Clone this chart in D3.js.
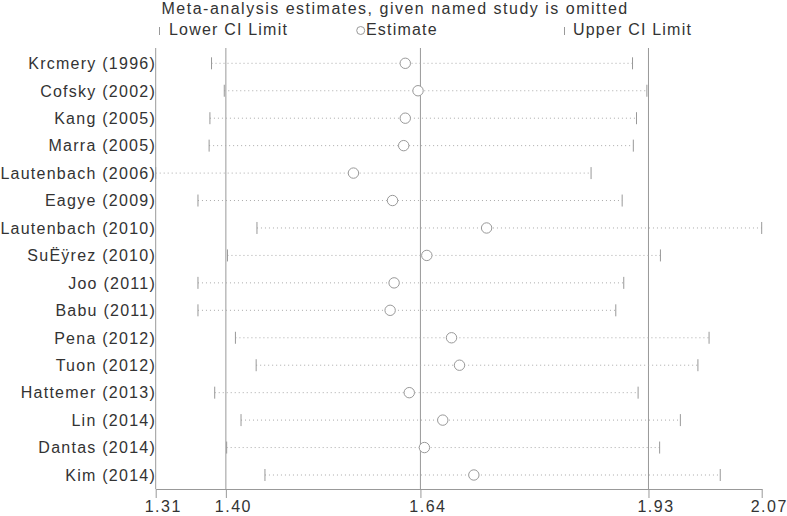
<!DOCTYPE html>
<html>
<head>
<meta charset="utf-8">
<script src="https://cdn.jsdelivr.net/npm/d3@7/dist/d3.min.js"></script>
<style>
  html, body { margin: 0; padding: 0; background: #fff; }
  svg { display: block; }
  text { font-family: "Liberation Sans", Arial, Helvetica, sans-serif; fill: #333; }
</style>
</head>
<body>
<svg id="chart" width="787" height="516"></svg>
<script>
const studies = ["Krcmery (1996)", "Cofsky (2002)", "Kang (2005)", "Marra (2005)",
  "Lautenbach (2006)", "Eagye (2009)", "Lautenbach (2010)", "SuËÿrez (2010)",
  "Joo (2011)", "Babu (2011)", "Pena (2012)", "Tuon (2012)", "Hattemer (2013)",
  "Lin (2014)", "Dantas (2014)", "Kim (2014)"];
const estimates = [1.623, 1.639, 1.623, 1.621, 1.558, 1.607, 1.725, 1.650,
  1.609, 1.604, 1.681, 1.691, 1.628, 1.670, 1.647, 1.709];
const lowerCI = [1.380, 1.396, 1.378, 1.377, 1.310, 1.363, 1.437, 1.400,
  1.363, 1.363, 1.410, 1.436, 1.384, 1.417, 1.399, 1.447];
const upperCI = [1.908, 1.926, 1.913, 1.909, 1.856, 1.895, 2.070, 1.943,
  1.897, 1.887, 2.004, 1.990, 1.915, 1.968, 1.942, 2.018];
const axisMin = 1.31, axisMax = 2.07;
const refLines = [1.398, 1.642, 1.928];   // overall lower CI, estimate, upper CI
const tickValues = [axisMin, ...refLines, axisMax];
const titleText = "Meta-analysis estimates, given named study is omitted";
const legendItems = ["Lower CI Limit", "Estimate", "Upper CI Limit"];

const svg = d3.select("#chart");
const x = d3.scaleLinear().domain([axisMin, axisMax]).range([155.7, 761.7]);
const y = d3.scalePoint().domain(studies).range([63.3, 475]);
const plotTop = 48, axisY = 489;

const rows = studies.map((s, i) => ({ s, est: estimates[i], lo: lowerCI[i], hi: upperCI[i] }));

// Title
svg.append("text").attr("x", 161.5).attr("y", 13.5)
  .style("font-size", "16px").style("letter-spacing", "1.5px").text(titleText);

// Legend
const lg = svg.append("g");
lg.append("line").attr("x1", 159.5).attr("x2", 159.5).attr("y1", 27).attr("y2", 35)
  .attr("stroke", "#999");
lg.append("text").attr("x", 169).attr("y", 35).style("font-size", "16px")
  .style("letter-spacing", "1.2px").text(legendItems[0]);
lg.append("circle").attr("cx", 360.7).attr("cy", 30.5).attr("r", 4)
  .attr("fill", "none").attr("stroke", "#999");
lg.append("text").attr("x", 366).attr("y", 35).style("font-size", "16px")
  .style("letter-spacing", "1.2px").text(legendItems[1]);
lg.append("line").attr("x1", 564.5).attr("x2", 564.5).attr("y1", 27).attr("y2", 35)
  .attr("stroke", "#999");
lg.append("text").attr("x", 573).attr("y", 35).style("font-size", "16px")
  .style("letter-spacing", "1.2px").text(legendItems[2]);

// Left axis line and reference lines
svg.append("line").attr("x1", x(axisMin)).attr("x2", x(axisMin))
  .attr("y1", plotTop).attr("y2", axisY).attr("stroke", "#999");
svg.selectAll("line.ref").data(refLines).join("line").attr("class", "ref")
  .attr("x1", d => x(d)).attr("x2", d => x(d))
  .attr("y1", plotTop).attr("y2", axisY).attr("stroke", "#999");

// Dotted CI lines
svg.selectAll("line.ci").data(rows).join("line").attr("class", "ci")
  .attr("x1", d => x(d.lo)).attr("x2", d => x(d.hi))
  .attr("y1", d => y(d.s)).attr("y2", d => y(d.s))
  .attr("stroke", "#aaa").attr("stroke-dasharray", "1,3");

// CI end marks
svg.selectAll("line.lo").data(rows).join("line").attr("class", "lo")
  .attr("x1", d => x(d.lo)).attr("x2", d => x(d.lo))
  .attr("y1", d => y(d.s) - 6).attr("y2", d => y(d.s) + 6)
  .attr("stroke", "#999");
svg.selectAll("line.hi").data(rows).join("line").attr("class", "hi")
  .attr("x1", d => x(d.hi)).attr("x2", d => x(d.hi))
  .attr("y1", d => y(d.s) - 6).attr("y2", d => y(d.s) + 6)
  .attr("stroke", "#999");

// Estimates
svg.selectAll("circle.est").data(rows).join("circle").attr("class", "est")
  .attr("cx", d => x(d.est)).attr("cy", d => y(d.s)).attr("r", 5.2)
  .attr("fill", "#fff").attr("stroke", "#999");

// Study labels
svg.selectAll("text.lab").data(rows).join("text").attr("class", "lab")
  .attr("x", 156).attr("y", d => y(d.s)).attr("dy", "0.36em")
  .attr("text-anchor", "end")
  .style("font-size", "16px").style("letter-spacing", "1.25px")
  .text(d => d.s);

// Bottom axis
const ax = svg.append("g").attr("transform", `translate(0,${axisY})`)
  .call(d3.axisBottom(x).tickValues(tickValues).tickFormat(d3.format(".2f"))
    .tickSize(9).tickSizeOuter(0).tickPadding(2.5));
ax.select(".domain").attr("stroke", "#999");
ax.selectAll(".tick line").attr("stroke", "#999");
ax.selectAll(".tick text").attr("dx", 7)
  .style("font-family", '"Liberation Sans", Arial, sans-serif')
  .style("font-size", "16px").style("letter-spacing", "1.5px").attr("fill", "#333");
</script>
</body>
</html>
